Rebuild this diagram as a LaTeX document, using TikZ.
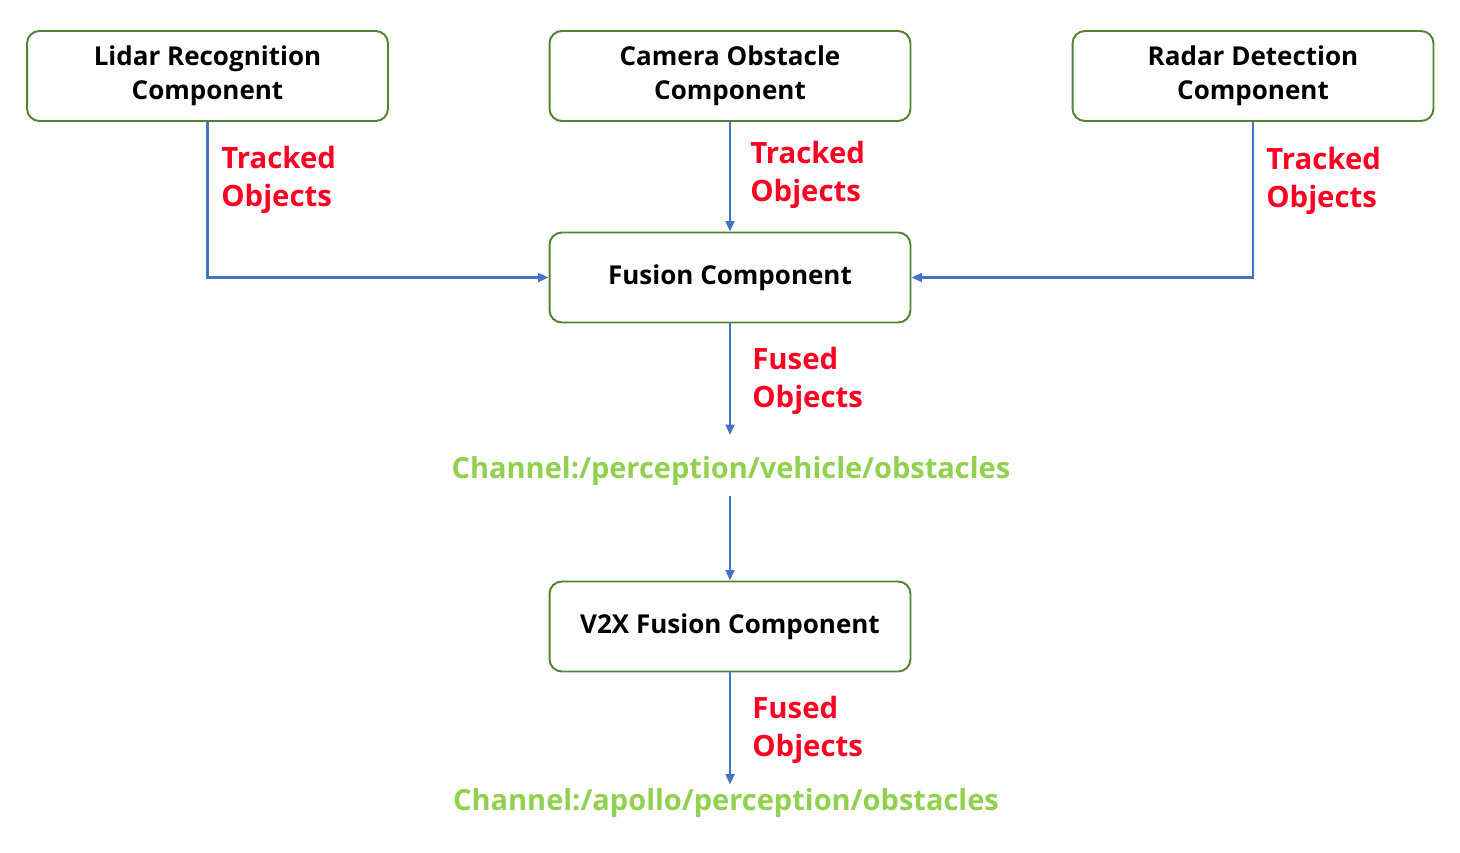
\documentclass[tikz,border=0pt]{standalone}
\usepackage{fontspec}
\setmainfont{Open Sans}
\usetikzlibrary{arrows.meta}
\definecolor{boxgreen}{HTML}{548235}
\definecolor{arrowblue}{HTML}{4472C4}
\definecolor{labelred}{HTML}{FF0022}
\definecolor{chgreen}{HTML}{92D050}
\begin{document}
\begin{tikzpicture}[x=0.02cm, y=-0.02cm, comp style/.style={draw=boxgreen, line width=1.1pt, rectangle, rounded corners=7pt, align=center, minimum width=7.22cm, minimum height=1.8cm, font=\fontsize{14.8}{19.5}\selectfont\bfseries}, flow/.style={draw=arrowblue, line width=1.4pt, -{Triangle[length=6pt,width=5pt]}}, msg style/.style={text=labelred, anchor=west, align=left, inner sep=0pt, font=\fontsize{16.7}{21.5}\selectfont\bfseries}, chan style/.style={text=chgreen, inner sep=0pt, font=\fontsize{16.5}{20}\selectfont\bfseries}]
	\useasboundingbox (0,0) rectangle (1460,852);
	\node[comp style] (C1) at (207.5, 76) {Lidar Recognition\\Component};
	\node[comp style] (C2) at (730, 76) {Camera Obstacle\\Component};
	\node[comp style] (C3) at (1253, 76) {Radar Detection\\Component};
	\node[comp style] (C4) at (730, 277.5) {Fusion Component};
	\node[chan style] (C5) at (731, 471) {Channel:/perception/vehicle/obstacles};
	\node[comp style] (C6) at (730, 626.5) {V2X Fusion Component};
	\node[chan style] (C7) at (726, 803) {Channel:/apollo/perception/obstacles};
	\node[msg style] (L1) at (221, 180) {Tracked\\Objects};
	\node[msg style] (L2) at (750, 175) {Tracked\\Objects};
	\node[msg style] (L3) at (1266, 181) {Tracked\\Objects};
	\node[msg style] (L4) at (752, 381) {Fused\\Objects};
	\node[msg style] (L5) at (752, 730) {Fused\\Objects};
	\draw[flow] (C1.south) |- (C4.west);
	\draw[flow] (C2) -- (C4);
	\draw[flow] (C3.south) |- (C4.east);
	\draw[flow, shorten >=12pt] (C4.south) -- (C4.south |- C5.north);
	\draw[flow, shorten <=6pt] (C6.north |- C5.south) -- (C6.north);
	\draw[flow, shorten >=2pt] (C6.south) -- (C6.south |- C7.north);
\end{tikzpicture}
\end{document}
